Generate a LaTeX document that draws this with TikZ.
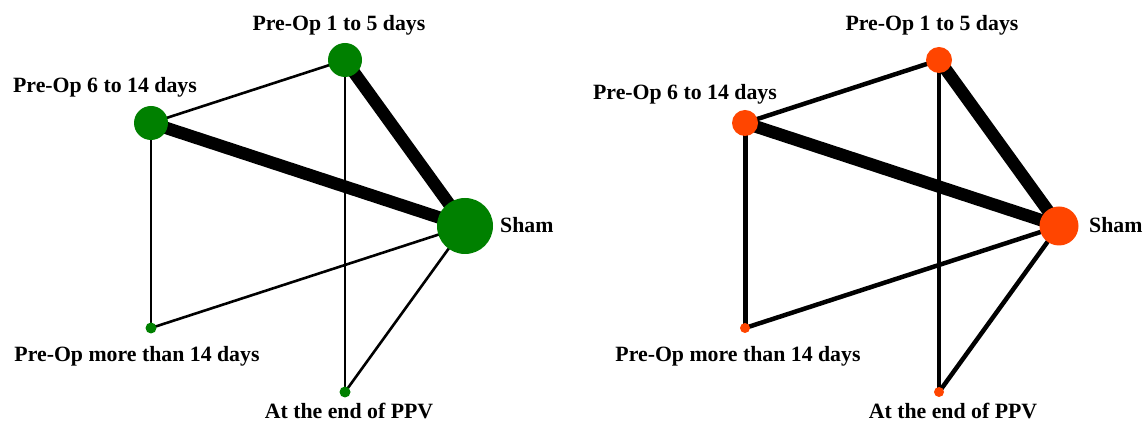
\documentclass[tikz,border=0pt]{standalone}
\usepackage{fontspec}
\setmainfont{Liberation Serif}
\usetikzlibrary{backgrounds}
\definecolor{netgreen}{RGB}{0,128,0}
\definecolor{netorange}{RGB}{255,69,0}
\tikzset{
  trt/.style={circle,inner sep=0pt,minimum size=#1pt},
  lbl/.style={inner sep=0pt,anchor=base,font=\fontsize{21.8}{26}\selectfont\bfseries},
  thin edge/.style={line width=2.6pt},
  thick edge/.style={line width=12.5pt},
}
\begin{document}
\begin{tikzpicture}[x=1pt,y=1pt]
\useasboundingbox (0,0) rectangle (1143,425);
% left network
\node[trt=34,fill=netgreen](a15) at (345,365){};
\node[trt=34,fill=netgreen](a614) at (151,302){};
\node[trt=56,fill=netgreen](asham) at (465,199){};
\node[trt=11,fill=netgreen](a14p) at (151,97){};
\node[trt=11,fill=netgreen](appv) at (345,33){};
\node[lbl](la15) at (339,394){Pre-Op 1 to 5 days};
\node[lbl](la614) at (105,332){Pre-Op 6 to 14 days};
\node[lbl,anchor=base west](lasham) at (500,192){Sham};
\node[lbl](la14p) at (137,63){Pre-Op more than 14 days};
\node[lbl](lappv) at (349,6){At the end of PPV};
\begin{scope}[on background layer]
\draw[thin edge](a15.center)--(a614.center);
\draw[thin edge](a15.center)--(appv.center);
\draw[thin edge](a614.center)--(a14p.center);
\draw[thin edge](asham.center)--(a14p.center);
\draw[thin edge](asham.center)--(appv.center);
\draw[thick edge](a15.center)--(asham.center);
\draw[thick edge](a614.center)--(asham.center);
\end{scope}
% right network
\node[trt=26,fill=netorange](b15) at (939,365){};
\node[trt=26,fill=netorange](b614) at (745,302){};
\node[trt=39,fill=netorange](bsham) at (1059,199){};
\node[trt=10,fill=netorange](b14p) at (745,97){};
\node[trt=10,fill=netorange](bppv) at (939,33){};
\node[lbl](lb15) at (932,394){Pre-Op 1 to 5 days};
\node[lbl](lb614) at (685,325){Pre-Op 6 to 14 days};
\node[lbl,anchor=base west](lbsham) at (1089,192){Sham};
\node[lbl](lb14p) at (738,63){Pre-Op more than 14 days};
\node[lbl](lbppv) at (953,6){At the end of PPV};
\begin{scope}[on background layer,thin edge/.style={line width=4.5pt}]
\draw[thin edge](b15.center)--(b614.center);
\draw[thin edge](b15.center)--(bppv.center);
\draw[thin edge,line width=5pt](b614.center)--(b14p.center);
\draw[thin edge](bsham.center)--(b14p.center);
\draw[thin edge](bsham.center)--(bppv.center);
\draw[thick edge](b15.center)--(bsham.center);
\draw[thick edge](b614.center)--(bsham.center);
\end{scope}
\end{tikzpicture}
\end{document}
